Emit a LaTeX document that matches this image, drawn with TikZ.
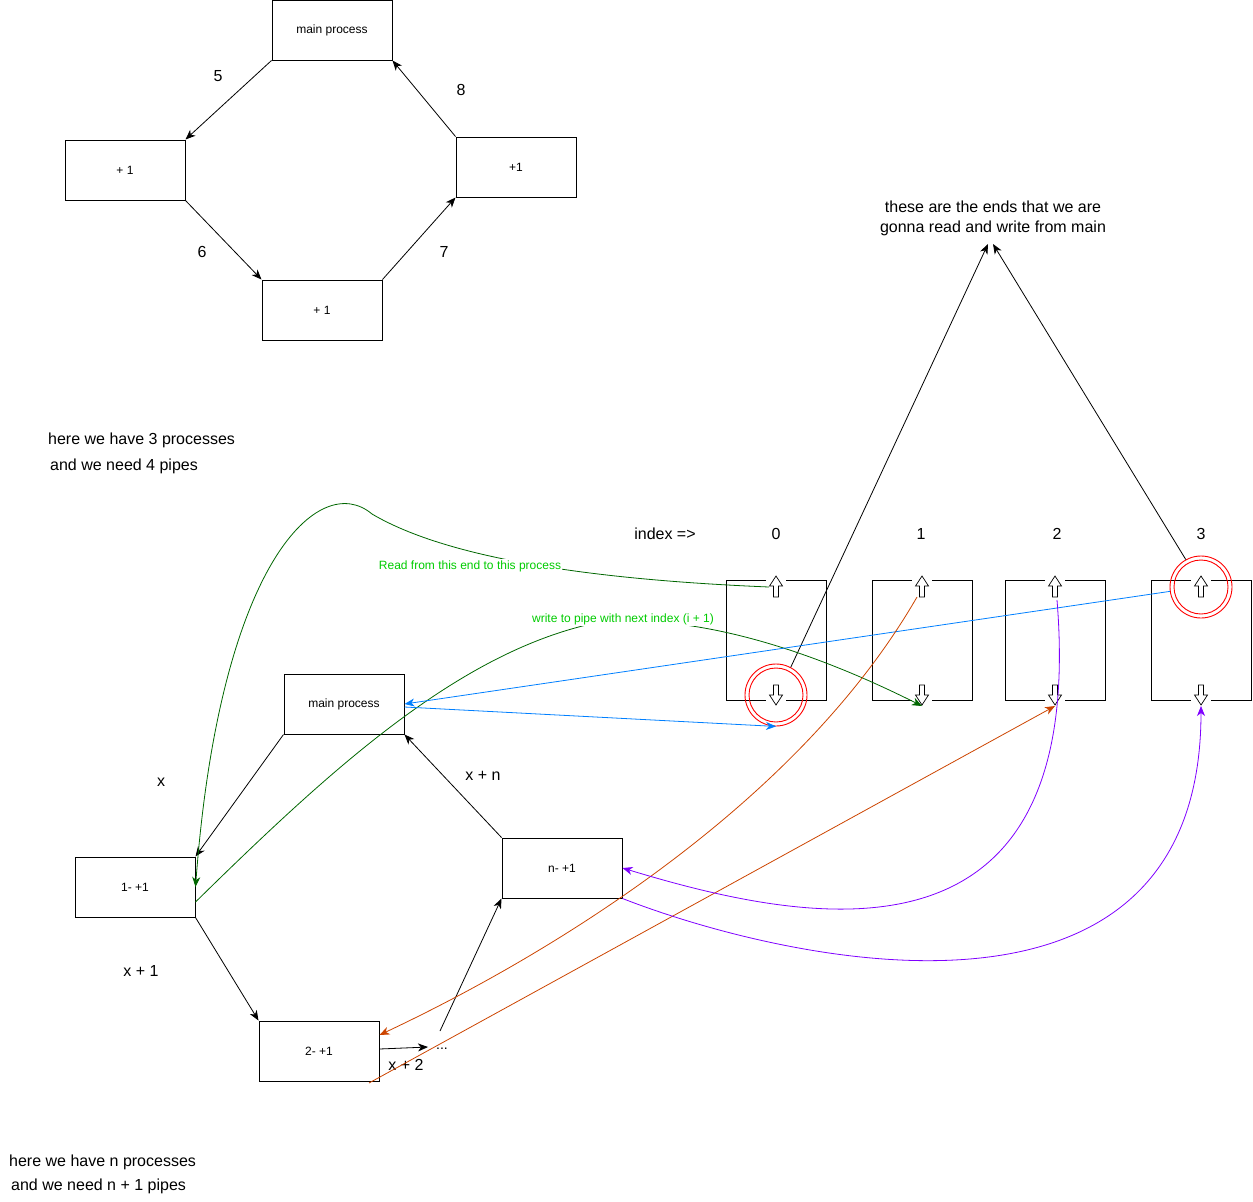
\documentclass[tikz,border=0pt]{standalone}
\usepackage{fontspec}
\setmainfont{Liberation Sans}
\usetikzlibrary{arrows.meta}
\definecolor{dgreen}{HTML}{006600}
\definecolor{lgreen}{HTML}{00CC00}
\definecolor{myblue}{HTML}{007FFF}
\definecolor{myorange}{HTML}{CC4400}
\definecolor{mypurple}{HTML}{7F00FF}
\definecolor{myred}{HTML}{FF0000}
\begin{document}
\begin{tikzpicture}[x=1pt,y=-1pt,
  box/.style={draw, line width=1pt, minimum width=120pt, minimum height=60pt, inner sep=0pt, font=\fontsize{12}{14}\selectfont},
  lbl/.style={font=\fontsize{16}{20}\selectfont, inner sep=0pt},
  glbl/.style={font=\fontsize{12}{14}\selectfont, text=lgreen, fill=white, inner sep=1pt},
  conn/.style={line width=0.8pt, -{Stealth[length=10pt,width=8pt,inset=3pt]}},
  pipeline/.style={line width=0.9pt},
  glyph/.style={line width=0.7pt, fill=white},
  ring/.style={circle, draw=myred, line width=0.9pt, inner sep=0pt},
]
\useasboundingbox (0,0) rectangle (1253,1202);

% ---------- top diagram ----------
\node[box] (mt) at (332,30) {main process};
\node[box] (l1) at (125,170) {+ 1};
\node[box] (b1) at (322,310) {+ 1};
\node[box] (r1) at (516,167) {+1};
\draw[conn] (mt.south west) -- (l1.north east);
\draw[conn] (l1.south east) -- (b1.north west);
\draw[conn] (b1.north east) -- (r1.south west);
\draw[conn] (r1.north west) -- (mt.south east);
\node[lbl] (n5) at (218,76) {5};
\node[lbl] (n6) at (202,252) {6};
\node[lbl] (n7) at (444,252) {7};
\node[lbl] (n8) at (461,90) {8};

% ---------- texts ----------
\node[lbl, anchor=west] (t3a) at (48,440) {here we have 3 processes};
\node[lbl, anchor=west] (t3b) at (50,466) {and we need 4 pipes};
\node[lbl, anchor=west] (tna) at (9,1162) {here we have n processes};
\node[lbl, anchor=west] (tnb) at (11,1186) {and we need n + 1 pipes};
\node[lbl, align=center] (ends) at (993,218) {these are the ends that we are\\gonna read and write from main};
\coordinate (tip) at (990,244);

\node[lbl] (idx) at (665,534) {index =>};
\node[lbl] (i0) at (776,534) {0};
\node[lbl] (i1) at (921,534) {1};
\node[lbl] (i2) at (1057,534) {2};
\node[lbl] (i3) at (1201,534) {3};

% ---------- pipes ----------
\foreach \n/\cx in {0/776,1/922,2/1055,3/1201}{
  \draw[pipeline] (\cx-10,580) -- (\cx-50,580) -- (\cx-50,700) -- (\cx-10,700);
  \draw[pipeline] (\cx+10,580) -- (\cx+50,580) -- (\cx+50,700) -- (\cx+10,700);
  \draw[glyph] (\cx,576) -- (\cx+6.5,586) -- (\cx+2.5,586) -- (\cx+2.5,597) -- (\cx-2.5,597) -- (\cx-2.5,586) -- (\cx-6.5,586) -- cycle;
  \draw[glyph] (\cx,705) -- (\cx+6.5,695) -- (\cx+2.5,695) -- (\cx+2.5,685) -- (\cx-2.5,685) -- (\cx-2.5,695) -- (\cx-6.5,695) -- cycle;
  \coordinate (up\n) at (\cx,587);
  \coordinate (dn\n) at (\cx,695);
  \coordinate (dnb\n) at (\cx,706);
}

% red rings
\node[ring, minimum size=62pt] (c0) at (dn0) {};
\node[ring, minimum size=54pt] (c0i) at (dn0) {};
\node[ring, minimum size=62pt] (c3) at (up3) {};
\node[ring, minimum size=54pt] (c3i) at (up3) {};

\draw[conn] (c0.62) -- ([xshift=-2pt]tip);
\draw[conn] (c3.119) -- ([xshift=3pt]tip);

% ---------- bottom diagram ----------
\node[box] (mb) at (344,704) {main process};
\node[box] (p1) at (135,887) {1- +1};
\node[box] (p2) at (319,1051) {2- +1};
\node[box] (pn) at (562,868) {n- +1};
\node[font=\fontsize{14}{16}\selectfont, inner sep=0pt] (dots) at (442,1049) {...};
\coordinate (dtop) at (440,1031);

\draw[conn] (mb.south west) -- (p1.north east);
\draw[conn] (p1.south east) -- (p2.north west);
\draw[conn] ([yshift=2pt]p2.east) -- (428,1047);
\draw[conn] (dtop) -- (pn.south west);
\draw[conn] (pn.north west) -- (mb.south east);

\node[lbl] (lx) at (161,782) {x};
\node[lbl] (lxn) at (483,776) {x + n};
\node[lbl] (lx1) at (141,971) {x + 1};
\node[lbl] (lx2) at (406,1065) {x + 2};

% green curves
\draw[conn, dgreen] ([xshift=-7pt]up0) .. controls (600,580) and (450,560) .. (372,514)
  .. controls (320,470) and (220,560) .. (p1.east);
\node[glbl] (rlab) at (470,566) {Read from this end to this process};

\draw[conn, dgreen] ([yshift=-15pt]p1.east) .. controls (330,770) and (460,650) .. (600,622)
  .. controls (720,612) and (850,670) .. (dnb1);
\node[glbl] (wlab) at (623,619) {write to pipe with next index (i + 1)};

% blue lines
\draw[conn, myblue] (c3.188) -- (mb.east);
\draw[conn, myblue] ([yshift=-3pt]mb.east) -- (c0.south);

% orange curves
\coordinate (o1s) at (917,597);
\draw[conn, myorange] (o1s) .. controls (800,800) and (560,950) .. ([yshift=16pt]p2.east);
\coordinate (o2s) at (369,1083);
\draw[conn, myorange] (o2s) -- (dnb2);

% purple curves
\coordinate (pu1s) at (1057,600);
\draw[conn, mypurple] (pu1s) .. controls (1088,980) and (810,925) .. (pn.east);
\draw[conn, mypurple] (pn.south east) .. controls (780,960) and (1201,1060) .. (dnb3);
\end{tikzpicture}
\end{document}
